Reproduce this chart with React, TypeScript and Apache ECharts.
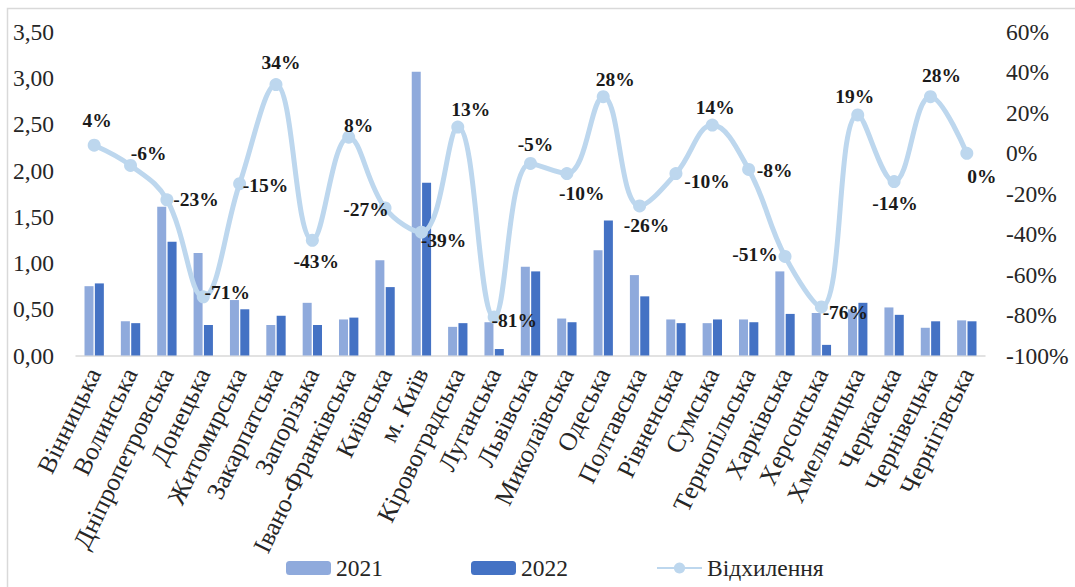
import React, { useEffect, useRef } from "react";
import * as echarts from "echarts";

const regions = [
  "Вінницька", "Волинська", "Дніпропетровська", "Донецька", "Житомирська",
  "Закарпатська", "Запорізька", "Івано-Франківська", "Київська", "м. Київ",
  "Кіровоградська", "Луганська", "Львівська", "Миколаївська", "Одеська",
  "Полтавська", "Рівненська", "Сумська", "Тернопільська", "Харківська",
  "Херсонська", "Хмельницька", "Черкаська", "Чернівецька", "Чернігівська",
];
const values2021 = [
  0.75, 0.37, 1.61, 1.11, 0.6, 0.33, 0.57, 0.39, 1.03, 3.07,
  0.31, 0.36, 0.96, 0.4, 1.14, 0.87, 0.39, 0.35, 0.39, 0.91,
  0.46, 0.5, 0.52, 0.3, 0.38,
];
const values2022 = [
  0.78, 0.35, 1.23, 0.33, 0.5, 0.43, 0.33, 0.41, 0.74, 1.87,
  0.35, 0.07, 0.91, 0.36, 1.46, 0.64, 0.35, 0.39, 0.36, 0.45,
  0.115, 0.57, 0.44, 0.37, 0.37,
];
const deviation = [
  4, -6, -23, -71, -15, 34, -43, 8, -27, -39,
  13, -81, -5, -10, 28, -26, -10, 14, -8, -51,
  -76, 19, -14, 28, 0,
];

// label placement (styling only)
const labelOffsets: number[][] = [
  [3, -25], [18, -12], [29, 0], [24, -4], [26, 2],
  [5, -22], [4, 21], [10, -12], [-19, 2], [22, 8],
  [13, -18], [20, 3], [5, -19], [15, 20], [12, -17],
  [7, 20], [31, 8], [3, -18], [26, 1], [-30, -2],
  [24, 6], [-3, -18], [1, 22], [11, -21], [15, 23],
];

const FONT = "'Liberation Serif', 'Times New Roman', serif";
const TXT = "#262626";

export default function App() {
  const ref = useRef<HTMLDivElement>(null);
  useEffect(() => {
    document.body.style.margin = "0";
    if (!ref.current) return;
    const chart = echarts.init(ref.current, undefined, { renderer: "svg" });
    chart.setOption({
      animation: false,
      backgroundColor: "#ffffff",
      textStyle: { fontFamily: FONT },
      graphic: [
        {
          type: "rect",
          shape: { x: 7.5, y: 8.5, width: 1080, height: 600 },
          style: { fill: "none", stroke: "#d9d9d9", lineWidth: 1.5 },
          silent: true,
        },
      ],
      grid: { left: 76, right: 90, top: 32, bottom: 231.5 },
      legend: {
        left: 281,
        top: 551,
        itemGap: 88,
        itemWidth: 45,
        itemHeight: 14,
        textStyle: { fontFamily: FONT, fontSize: 23.5, color: TXT },
        data: ["2021", "2022", "Відхилення"],
      },
      xAxis: {
        type: "category",
        data: regions,
        axisLine: { lineStyle: { color: "#d9d9d9", width: 1.5 } },
        axisTick: { show: false },
        axisLabel: {
          interval: 0,
          rotate: 64,
          margin: 14,
          fontFamily: FONT,
          fontSize: 25.5,
          color: TXT,
        },
      },
      yAxis: [
        {
          type: "value",
          min: 0,
          max: 3.5,
          interval: 0.5,
          splitLine: { show: false },
          axisLine: { show: false },
          axisLabel: {
            margin: 22,
            fontFamily: FONT,
            fontSize: 23.5,
            color: TXT,
            formatter: (v: number) => v.toFixed(2).replace(".", ","),
          },
        },
        {
          type: "value",
          min: -100,
          max: 60,
          interval: 20,
          splitLine: { show: false },
          axisLine: { show: false },
          axisLabel: {
            margin: 21,
            fontFamily: FONT,
            fontSize: 23.5,
            color: TXT,
            formatter: (v: number) => `${v}%`,
          },
        },
      ],
      series: [
        {
          name: "2021",
          type: "bar",
          data: values2021,
          barWidth: 9,
          barGap: "15%",
          itemStyle: { color: "#8FAADC" },
          z: 2,
        },
        {
          name: "2022",
          type: "bar",
          data: values2022,
          barWidth: 9,
          itemStyle: { color: "#4472C4" },
          z: 2,
        },
        {
          name: "Відхилення",
          type: "line",
          yAxisIndex: 1,
          smooth: 0.4,
          symbol: "circle",
          symbolSize: 13,
          lineStyle: { color: "#BDD7EE", width: 5 },
          itemStyle: { color: "#BDD7EE" },
          z: 5,
          label: {
            show: true,
            position: "inside",
            fontFamily: FONT,
            fontSize: 19.5,
            fontWeight: "bold",
            color: "#1a1a1a",
            formatter: (p: any) => `${p.value}%`,
          },
          data: deviation.map((v, i) => ({
            value: v,
            label: { offset: labelOffsets[i] },
          })),
        },
      ],
    });
    return () => chart.dispose();
  }, []);
  return <div ref={ref} style={{ width: 1075, height: 587 }} />;
}
